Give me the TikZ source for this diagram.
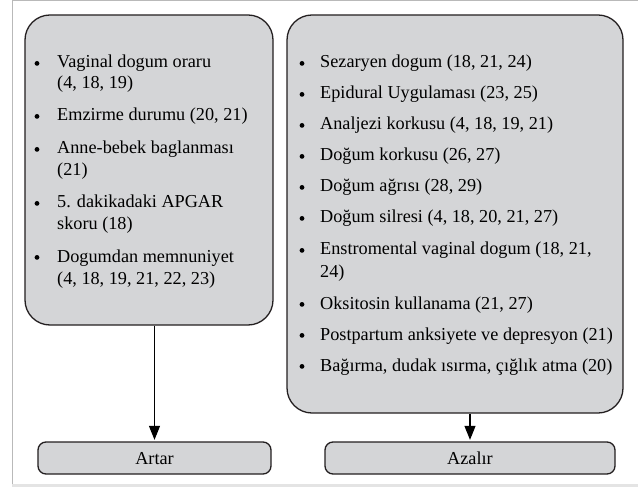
\documentclass[tikz,border=0pt]{standalone}
\usepackage{fontspec}
\setmainfont{Liberation Serif}
\usetikzlibrary{arrows.meta}
\definecolor{boxfill}{RGB}{212,213,215}
\definecolor{boxline}{RGB}{35,31,32}
\definecolor{frameline}{RGB}{185,185,185}
\definecolor{frameband}{RGB}{228,228,228}
\begin{document}
\begin{tikzpicture}[x=1bp,y=-1bp,
  font=\fontsize{18.3}{21}\selectfont,
  bigbox/.style={draw=boxline, fill=boxfill, line width=1.3bp, rounded corners=25bp, inner sep=0pt},
  smallbox/.style={draw=boxline, fill=boxfill, line width=1.3bp, rounded corners=8bp, inner sep=0pt, text depth=0pt},
  txt/.style={anchor=base west, inner sep=0pt},
  bul/.style={circle, fill=black, inner sep=0pt, minimum size=4.8bp},
  arr/.style={draw=black, line width=1.1bp, shorten >=1.5bp, -{Triangle[length=14bp,width=11bp]}}]
\useasboundingbox (0,0) rectangle (638,487);
% outer frame
\fill[frameband] (12,484) rectangle (638,487);
\draw[frameline, line width=1bp] (638,1) -- (12,1) -- (12,484);
% boxes
\node[bigbox, minimum width=248bp, minimum height=310bp] (lbox) at (149,170) {};
\node[bigbox, minimum width=336bp, minimum height=398bp] (rbox) at (455,214) {};
\node[smallbox, minimum width=233bp, minimum height=32bp] (artar) at (154.5,458) {Artar};
\node[smallbox, minimum width=290bp, minimum height=32bp] (azalir) at (470,458) {Azalır};
% arrows
\draw[arr] (lbox.south -| artar.north) -- (artar.north);
\draw[arr] (rbox.south -| azalir.north) -- (azalir.north);
% left list
\node[bul] (lb1) at (37,63.4) {};
\node[txt] (l1a) at (57,68) {Vaginal dogum oraru};
\node[txt] (l1b) at (57,89) {(4, 18, 19)};
\node[bul] (lb2) at (37,116.4) {};
\node[txt] (l2a) at (57,121) {Emzirme durumu (20, 21)};
\node[bul] (lb3) at (37,149.4) {};
\node[txt] (l3a) at (57,154) {Anne-bebek baglanması};
\node[txt] (l3b) at (57,176) {(21)};
\node[bul] (lb4) at (37,203.4) {};
\node[txt] (l4a) at (57,208) {5. dakikadaki APGAR};
\node[txt] (l4b) at (57,230) {skoru (18)};
\node[bul] (lb5) at (37,257.4) {};
\node[txt] (l5a) at (57,262) {Dogumdan memnuniyet};
\node[txt] (l5b) at (57,284) {(4, 18, 19, 21, 22, 23)};
% right list
\node[bul] (rb1) at (302,63.4) {};
\node[txt] (r1) at (320,68) {Sezaryen dogum (18, 21, 24)};
\node[bul] (rb2) at (302,94.4) {};
\node[txt] (r2) at (320,99) {Epidural Uygulaması (23, 25)};
\node[bul] (rb3) at (302,125.4) {};
\node[txt] (r3) at (320,130) {Analjezi korkusu (4, 18, 19, 21)};
\node[bul] (rb4) at (302,156.4) {};
\node[txt] (r4) at (320,161) {Doğum korkusu (26, 27)};
\node[bul] (rb5) at (302,187.4) {};
\node[txt] (r5) at (320,192) {Doğum ağrısı (28, 29)};
\node[bul] (rb6) at (302,218.4) {};
\node[txt] (r6) at (320,223) {Doğum silresi (4, 18, 20, 21, 27)};
\node[bul] (rb7) at (302,250.4) {};
\node[txt] (r7a) at (320,255) {Enstromental vaginal dogum (18, 21,};
\node[txt] (r7b) at (320,277) {24)};
\node[bul] (rb8) at (302,304.4) {};
\node[txt] (r8) at (320,309) {Oksitosin kullanama (21, 27)};
\node[bul] (rb9) at (302,335.4) {};
\node[txt] (r9) at (320,340) {Postpartum anksiyete ve depresyon (21)};
\node[bul] (rb10) at (302,366.4) {};
\node[txt] (r10) at (320,371) {Bağırma, dudak ısırma, çığlık atma (20)};
\end{tikzpicture}
\end{document}
